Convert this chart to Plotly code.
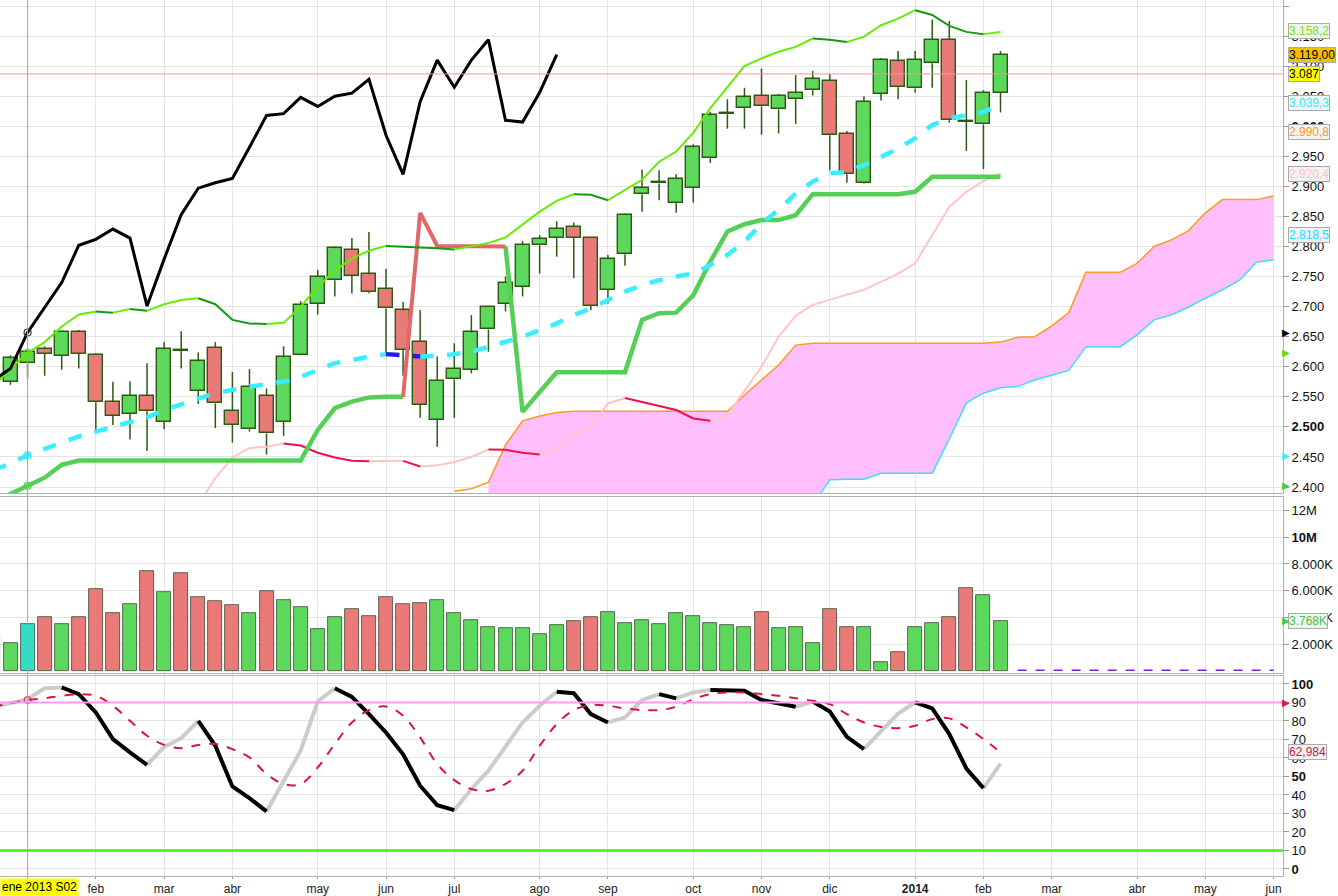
import pandas as pd
import plotly.graph_objects as go
from plotly.subplots import make_subplots


# ------------------------------------------------------
# 1. DATA (weekly bars)
# ------------------------------------------------------
first_week = "2012-12-24"   # first (half hidden) weekly bar
n_weeks = 76                # 60 real bars + projected cloud
n_bars = 60

open_ = [2.522, 2.575, 2.606, 2.629, 2.618, 2.658, 2.620, 2.542, 2.522, 2.552,
         2.508, 2.628, 2.560, 2.632, 2.526, 2.496, 2.552, 2.508, 2.619, 2.705,
         2.744, 2.795, 2.754, 2.730, 2.694, 2.642, 2.512, 2.579, 2.595, 2.662,
         2.705, 2.733, 2.802, 2.814, 2.833, 2.814, 2.728, 2.787, 2.887, 2.905,
         2.873, 2.897, 2.947, 3.020, 3.030, 3.051, 3.028, 3.045, 3.060, 3.076,
         2.987, 2.906, 3.054, 3.108, 3.063, 3.105, 3.143, 3.008, 3.003, 3.056]
high = [2.560, 2.619, 2.627, 2.634, 2.660, 2.661, 2.623, 2.575, 2.576, 2.606,
        2.641, 2.659, 2.624, 2.641, 2.591, 2.596, 2.564, 2.634, 2.709, 2.761,
        2.800, 2.814, 2.824, 2.763, 2.708, 2.694, 2.617, 2.639, 2.686, 2.701,
        2.750, 2.809, 2.819, 2.842, 2.840, 2.815, 2.786, 2.855, 2.928, 2.927,
        2.920, 2.970, 3.024, 3.045, 3.064, 3.096, 3.054, 3.085, 3.092, 3.087,
        2.992, 3.050, 3.113, 3.125, 3.125, 3.177, 3.175, 3.077, 3.060, 3.125]
low = [2.510, 2.570, 2.581, 2.585, 2.595, 2.597, 2.492, 2.503, 2.479, 2.460,
       2.496, 2.597, 2.538, 2.498, 2.474, 2.492, 2.454, 2.485, 2.619, 2.687,
       2.717, 2.722, 2.722, 2.622, 2.585, 2.515, 2.467, 2.515, 2.589, 2.625,
       2.692, 2.717, 2.755, 2.783, 2.747, 2.694, 2.705, 2.768, 2.858, 2.877,
       2.856, 2.873, 2.939, 2.996, 2.996, 2.986, 2.988, 3.004, 3.051, 2.927,
       2.906, 2.905, 3.043, 3.045, 3.056, 3.064, 3.006, 2.959, 2.929, 3.023]
close = [2.547, 2.614, 2.624, 2.622, 2.658, 2.622, 2.541, 2.518, 2.552, 2.526,
         2.629, 2.627, 2.609, 2.539, 2.503, 2.567, 2.489, 2.616, 2.702, 2.750,
         2.797, 2.751, 2.724, 2.697, 2.628, 2.537, 2.577, 2.597, 2.657, 2.699,
         2.740, 2.802, 2.812, 2.829, 2.814, 2.701, 2.779, 2.853, 2.897, 2.906,
         2.913, 2.965, 3.018, 3.021, 3.048, 3.033, 3.050, 3.055, 3.078, 2.985,
         2.920, 3.041, 3.110, 3.065, 3.110, 3.144, 3.010, 3.007, 3.056, 3.119]

# volume in millions
volume_m = [2.5, 2.1, 3.5, 4.0, 3.5, 4.0, 6.1, 4.3, 5.0, 7.5,
            5.9, 7.3, 5.5, 5.2, 4.9, 4.3, 6.0, 5.3, 4.8, 3.1,
            4.0, 4.6, 4.1, 5.5, 5.0, 5.1, 5.3, 4.3, 3.8, 3.3,
            3.2, 3.2, 2.8, 3.4, 3.7, 4.0, 4.4, 3.6, 3.8, 3.5,
            4.3, 4.1, 3.6, 3.4, 3.3, 4.4, 3.2, 3.3, 2.1, 4.6,
            3.3, 3.3, 0.7, 1.4, 3.3, 3.6, 4.0, 6.2, 5.7, 3.768]

# thin channel line (top)
upper_line = [2.567, 2.597, 2.623, 2.641, 2.667, 2.687, 2.692, 2.690, 2.696, 2.693,
              2.704, 2.711, 2.714, 2.704, 2.678, 2.672, 2.671, 2.673, 2.700, 2.733,
              2.760, 2.780, 2.793, 2.801, 2.800, 2.799, 2.797, 2.795, 2.800, 2.806,
              2.815, 2.836, 2.858, 2.876, 2.887, 2.886, 2.877, 2.894, 2.911, 2.941,
              2.958, 2.989, 3.030, 3.065, 3.100, 3.113, 3.124, 3.132, 3.146, 3.144,
              3.140, 3.149, 3.168, 3.179, 3.193, 3.185, 3.167, 3.157, 3.153, 3.157]
# thick line (bottom)
lower_line = [2.375, 2.388, 2.402, 2.4155, 2.437, 2.444, 2.444, 2.444, 2.444, 2.444,
              2.444, 2.444, 2.444, 2.444, 2.444, 2.444, 2.444, 2.444, 2.444, 2.495,
              2.531, 2.542, 2.549, 2.550, 2.550, 2.856, 2.801, 2.801, 2.801, 2.801,
              2.800, 2.525, 2.558, 2.591, 2.591, 2.591, 2.591, 2.591, 2.678, 2.689,
              2.690, 2.719, 2.775, 2.825, 2.837, 2.844, 2.844, 2.852, 2.887, 2.887,
              2.887, 2.887, 2.887, 2.887, 2.891, 2.916, 2.916, 2.916, 2.916, 2.916]
# dashed cyan average
base_line = [2.428, 2.439, 2.453, 2.464, 2.475, 2.484, 2.492, 2.500, 2.507, 2.516,
             2.528, 2.538, 2.547, 2.556, 2.562, 2.567, 2.571, 2.575, 2.583, 2.595,
             2.606, 2.611, 2.617, 2.621, 2.619, 2.617, 2.618, 2.621, 2.625, 2.633,
             2.642, 2.650, 2.661, 2.672, 2.686, 2.697, 2.711, 2.725, 2.736, 2.744,
             2.750, 2.755, 2.769, 2.786, 2.808, 2.838, 2.861, 2.888, 2.908, 2.922,
             2.924, 2.935, 2.949, 2.963, 2.980, 3.002, 3.013, 3.019, 3.024, 3.035]
# pink / red thin line, starts 2013-03-18
pink_line = [2.370, 2.415, 2.449, 2.465, 2.467, 2.4725, 2.469, 2.457, 2.449, 2.4437,
             2.4430, 2.4432, 2.4435, 2.434, 2.436, 2.4415, 2.450, 2.4625, 2.462, 2.457,
             2.454, 2.465, 2.488, 2.500, 2.539, 2.548, 2.541, 2.535, 2.528, 2.514,
             2.510, 2.520, 2.560, 2.600, 2.650, 2.685, 2.703, 2.712, 2.720, 2.728,
             2.741, 2.755, 2.772, 2.820, 2.866, 2.891, 2.909, 2.921]
# cloud edges (projected forward), orange one starts 2013-07-01
cloud_a = [2.393, 2.397, 2.408, 2.470, 2.510, 2.518, 2.524,
           2.526, 2.526, 2.526, 2.526, 2.526, 2.526, 2.526, 2.526, 2.526, 2.526,
           2.553, 2.578, 2.603, 2.636,
           2.639, 2.639, 2.639, 2.639, 2.639, 2.639, 2.639, 2.639, 2.639, 2.639, 2.639,
           2.641, 2.649, 2.650, 2.668, 2.690, 2.757, 2.757, 2.757, 2.772, 2.800,
           2.811, 2.826, 2.856, 2.878, 2.878, 2.878, 2.884]
# cyan edge, starts 2013-07-15 (first values are below the visible range)
cloud_b = [2.300, 2.300, 2.300, 2.300, 2.300, 2.300, 2.300, 2.300, 2.300, 2.300,
           2.300, 2.300, 2.300, 2.300, 2.300, 2.300, 2.300, 2.300, 2.300, 2.370,
           2.412, 2.413, 2.413, 2.423, 2.423, 2.423, 2.423, 2.480, 2.540, 2.556,
           2.565, 2.567, 2.578, 2.586, 2.594, 2.633, 2.633, 2.633, 2.653, 2.678,
           2.686, 2.699, 2.714, 2.728, 2.744, 2.774, 2.778]

stoch_k = [87.5, 89.5, 91.8, 97.7, 98.1, 94.5, 84.6, 70.2, 63.0, 56.3,
           66.0, 70.7, 80.1, 66.6, 44.6, 38.3, 31.1, 47.7, 63.9, 90.5,
           97.7, 93.0, 83.7, 73.8, 62.0, 45.0, 34.5, 31.8, 43.2, 53.1,
           66.0, 79.2, 88.2, 95.8, 95.0, 83.7, 79.2, 81.9, 91.3, 94.5,
           92.2, 95.4, 96.8, 96.7, 96.3, 91.3, 89.6, 87.7, 90.5, 85.1,
           71.4, 64.8, 74.7, 84.0, 90.0, 86.8, 72.9, 54.3, 43.7, 57.0]
stoch_d = [87.8, 89.5, 91.3, 92.3, 93.6, 94.5, 93.6, 88.2, 80.1, 72.0,
           67.1, 65.3, 67.0, 67.5, 64.8, 60.3, 51.3, 45.9, 45.9, 54.9,
           67.5, 79.2, 85.9, 87.8, 82.8, 71.1, 56.7, 48.0, 43.2, 42.3,
           46.0, 53.1, 66.6, 78.3, 85.9, 88.6, 88.2, 86.8, 85.9, 85.9,
           87.7, 91.8, 94.5, 95.4, 95.4, 94.5, 93.6, 92.3, 90.9, 89.1,
           83.7, 79.2, 76.8, 76.1, 77.4, 81.0, 81.4, 76.5, 70.2, 63.0]
stoch_levels = [90, 10]
last_price_line = 3.087

month_ticks = ["2013-01-07", "2013-02-04", "2013-03-04", "2013-04-01", "2013-05-06",
               "2013-06-03", "2013-07-01", "2013-08-05", "2013-09-02", "2013-10-07",
               "2013-11-04", "2013-12-02", "2014-01-06", "2014-02-03", "2014-03-03",
               "2014-04-07", "2014-05-05", "2014-06-02"]
month_labels = ["", "feb", "mar", "abr", "may", "jun", "jul", "ago", "sep", "oct",
                "nov", "dic", "<b>2014</b>", "feb", "mar", "abr", "may", "jun"]

price_ticks = [2.40, 2.45, 2.50, 2.55, 2.60, 2.65, 2.70, 2.75, 2.80, 2.85,
               2.90, 2.95, 3.00, 3.05, 3.10, 3.15, 3.20]
vol_ticks = [2, 4, 6, 8, 10, 12]
vol_labels = ["2.000K", "4.000K", "6.000K", "8.000K", "<b>10M</b>", "12M"]
osc_ticks = [0, 10, 20, 30, 40, 50, 60, 70, 80, 90, 100]

# value tags on the right axis: value, text, text colour, box colour
price_tags = [
    (3.1582, "3.158,2", "#74e02c", "#f3f3f3"),
    (3.1190, "3.119,00", "#000000", "#f2c200"),
    (3.0870, "3.087", "#000000", "#ffff00"),
    (3.0393, "3.039,3", "#38e8ff", "#f3f3f3"),
    (2.9908, "2.990,8", "#ff9a22", "#f3f3f3"),
    (2.9204, "2.920,4", "#ffc2c2", "#f3f3f3"),
    (2.8185, "2.818,5", "#22ddff", "#f3f3f3"),
]

CHIKOU_SHIFT = 26
PINK_START = 12
CLOUD_A_START = 27
CLOUD_B_START = 29
RED_FROM, RED_TO = 24, 30     # part of the thick line drawn in red
CROSS = 2                     # bar under the crosshair (ene 2013 S02)

# colours
UP = "#5cd85c"
DOWN = "#ea7a78"
EDGE = "#2c5a12"
FONT = "Liberation Sans, Arial, sans-serif"


# ------------------------------------------------------
# 2. HELPERS
# ------------------------------------------------------
def runs(xs, ys):
    """Split a line into rising / falling runs (lists with None gaps)."""
    out = {True: ([], []), False: ([], [])}
    i, n = 0, len(ys)
    while i < n - 1:
        d = ys[i + 1] > ys[i]
        j = i
        while j < n - 1 and (ys[j + 1] > ys[j]) == d:
            j += 1
        px, py = out[d]
        px += list(xs[i:j + 1]) + [None]
        py += list(ys[i:j + 1]) + [None]
        i = j
    return out


def add_runs(fig, xs, ys, up_col, dn_col, width, dash="solid", row=1):
    parts = runs(xs, ys)
    for rising, col in ((True, up_col), (False, dn_col)):
        px, py = parts[rising]
        fig.add_trace(go.Scatter(x=px, y=py, mode="lines", hoverinfo="skip",
                                 line=dict(color=col, width=width, dash=dash)),
                      row=row, col=1)


weeks = pd.date_range(first_week, periods=n_weeks, freq="7D")
bars = list(weeks[:n_bars])
bar_width = 0.82 * 7 * 24 * 3600 * 1000
x_start = weeks[1] - pd.Timedelta(days=7 * 0.615)
x_end = weeks[1] + pd.Timedelta(days=7 * 74.55)


# ------------------------------------------------------
# 3. FIGURE
# ------------------------------------------------------
fig = make_subplots(rows=3, cols=1, shared_xaxes=True, vertical_spacing=0.004)

# --- cloud ---
ca_x = list(weeks[CLOUD_A_START:CLOUD_A_START + len(cloud_a)])
cb_x = list(weeks[CLOUD_B_START:CLOUD_B_START + len(cloud_b)])
skip = CLOUD_B_START - CLOUD_A_START
fig.add_trace(go.Scatter(x=ca_x[skip:], y=cloud_a[skip:], mode="lines",
                         line=dict(width=0), hoverinfo="skip"), row=1, col=1)
fig.add_trace(go.Scatter(x=cb_x, y=cloud_b, mode="lines", fill="tonexty",
                         fillcolor="#ffbefd", line=dict(color="#3fdcff", width=1.5),
                         hoverinfo="skip"), row=1, col=1)
fig.add_trace(go.Scatter(x=ca_x, y=cloud_a, mode="lines",
                         line=dict(color="#ff9a22", width=1.5), hoverinfo="skip"),
              row=1, col=1)

# --- candles: wicks + bodies ---
wx, wy = [], []
for d, o, h, l, c in zip(bars, open_, high, low, close):
    wx += [d, d, None, d, d, None]
    wy += [max(o, c), h, None, l, min(o, c), None]
fig.add_trace(go.Scatter(x=wx, y=wy, mode="lines", hoverinfo="skip",
                         line=dict(color=EDGE, width=1.5)), row=1, col=1)

fig.add_trace(go.Bar(
    x=bars,
    y=[max(abs(c - o), 0.0015) for o, c in zip(open_, close)],
    base=[min(o, c) for o, c in zip(open_, close)],
    width=bar_width,
    marker=dict(color=[UP if c >= o else DOWN for o, c in zip(open_, close)],
                line=dict(color=EDGE, width=1.4)),
), row=1, col=1)

# --- pink / red thin line ---
pink_x = list(weeks[PINK_START:PINK_START + len(pink_line)])
add_runs(fig, pink_x, pink_line, "#ffc4c4", "#f0104a", 2)

# --- thick bottom line (green, one stretch red) ---
lx = bars
green_x = list(lx[:RED_FROM + 1]) + [None] + list(lx[RED_TO:])
green_y = list(lower_line[:RED_FROM + 1]) + [None] + list(lower_line[RED_TO:])
fig.add_trace(go.Scatter(x=green_x, y=green_y, mode="lines", hoverinfo="skip",
                         line=dict(color="#55cf55", width=4.5)), row=1, col=1)
fig.add_trace(go.Scatter(x=lx[RED_FROM:RED_TO + 1], y=lower_line[RED_FROM:RED_TO + 1],
                         mode="lines", hoverinfo="skip",
                         line=dict(color="#e06868", width=4)), row=1, col=1)

# --- thin top line ---
add_runs(fig, bars, upper_line, "#66ee00", "#149a14", 2)

# --- dashed cyan average ---
add_runs(fig, bars, base_line, "#38eeff", "#2a1ae6", 4.5, dash="dash")

# --- lagging close (black) ---
chikou = close[CHIKOU_SHIFT:]
fig.add_trace(go.Scatter(x=bars[:len(chikou)], y=chikou, mode="lines",
                         hoverinfo="skip", line=dict(color="#000000", width=3)),
              row=1, col=1)

# --- crosshair circles ---
fig.add_trace(go.Scatter(
    x=[bars[CROSS]] * 4,
    y=[chikou[CROSS], upper_line[CROSS], base_line[CROSS], lower_line[CROSS]],
    mode="markers", hoverinfo="skip",
    marker=dict(symbol="circle-open", size=7,
                color=["#333333", "#66dd00", "#38eeff", "#55cf55"], line=dict(width=1.2)),
), row=1, col=1)

# --- volume ---
vol_col = [UP] + [UP if close[i] >= close[i - 1] else DOWN for i in range(1, n_bars)]
vol_col[CROSS] = "#33dcc4"
fig.add_trace(go.Bar(x=bars, y=volume_m, width=bar_width,
                     marker=dict(color=vol_col, line=dict(color="#3d4a35", width=0.8))),
              row=2, col=1)
future = list(weeks[n_bars:])
fig.add_trace(go.Scatter(x=future, y=[0.05] * len(future), mode="lines", hoverinfo="skip",
                         line=dict(color="#7a1fd0", width=1.5, dash="dash")),
              row=2, col=1)

# --- stochastic ---
add_runs(fig, bars, stoch_k, "#cccccc", "#000000", 4, row=3)
fig.add_trace(go.Scatter(x=bars, y=stoch_d, mode="lines", line_shape="spline",
                         hoverinfo="skip",
                         line=dict(color="#dc1446", width=2, dash="dash")),
              row=3, col=1)
fig.add_trace(go.Scatter(x=[bars[CROSS]], y=[stoch_d[CROSS]], mode="markers",
                         hoverinfo="skip",
                         marker=dict(symbol="circle-open", size=7, color="#dc1446")),
              row=3, col=1)


# ------------------------------------------------------
# 4. SHAPES / LABELS
# ------------------------------------------------------
fig.add_hline(y=last_price_line, line=dict(color="#ee9a9a", width=1), row=1, col=1)
fig.add_hline(y=stoch_levels[0], line=dict(color="#ff99ee", width=2), row=3, col=1)
fig.add_hline(y=stoch_levels[1], line=dict(color="#44ee11", width=2.5), row=3, col=1)
fig.add_shape(type="line", xref="x3", yref="paper", x0=bars[CROSS], x1=bars[CROSS],
              y0=0, y1=1, line=dict(color="#ee8888", width=1))

for val, txt, fc, bg in price_tags:
    fig.add_annotation(xref="paper", yref="y", x=1, y=val, text=txt, showarrow=False,
                       xanchor="left", xshift=5, bgcolor=bg, bordercolor="#aaaaaa",
                       borderwidth=1, borderpad=0, font=dict(size=12, color=fc, family=FONT))
fig.add_annotation(xref="paper", yref="y2", x=1, y=volume_m[-1], text="3.768K",
                   showarrow=False, xanchor="left", xshift=5, bgcolor="#f3f3f3",
                   bordercolor="#aaaaaa", borderwidth=1, borderpad=0,
                   font=dict(size=12, color="#44c444", family=FONT))
fig.add_annotation(xref="paper", yref="y3", x=1, y=stoch_d[-1], text="62,984",
                   showarrow=False, xanchor="left", xshift=5, bgcolor="#f3f3f3",
                   bordercolor="#aaaaaa", borderwidth=1, borderpad=0,
                   font=dict(size=12, color="#dc1446", family=FONT))

# small triangles on the axis line
axis_marks = [("y", chikou[CROSS], "#000000"), ("y", upper_line[CROSS], "#66dd00"),
              ("y", base_line[CROSS], "#38eeff"), ("y", lower_line[CROSS], "#44cc44"),
              ("y2", volume_m[-1], "#44cc44"), ("y3", stoch_levels[0], "#dc1446")]
for yref, val, col in axis_marks:
    fig.add_annotation(xref="paper", yref=yref, x=1, y=val, text="▶", showarrow=False,
                       xanchor="left", xshift=-3, font=dict(size=10, color=col,
                                                             family="DejaVu Sans"))

fig.add_annotation(xref="paper", yref="paper", x=0, y=0, text="ene 2013 S02",
                   showarrow=False, xanchor="left", yanchor="top", yshift=-2,
                   bgcolor="#ffff00", borderpad=1,
                   font=dict(size=12, color="#000000", family=FONT))


# ------------------------------------------------------
# 5. LAYOUT
# ------------------------------------------------------
grid = "#e4e4e4"
axis_line = "#b0b0b0"
xcommon = dict(type="date", range=[x_start, x_end], tickvals=month_ticks,
               showgrid=True, gridcolor=grid, showline=True, mirror=True,
               linecolor=axis_line, zeroline=False, automargin=False)
fig.update_xaxes(**xcommon)
fig.update_xaxes(ticktext=month_labels, ticks="outside", ticklen=2, tickcolor="#999999",
                 tickfont=dict(size=12, color="#222222", family=FONT), row=3, col=1)

ycommon = dict(side="right", showgrid=True, gridcolor=grid, showline=True, mirror=True,
               linecolor=axis_line, zeroline=False, ticks="outside", ticklen=5,
               tickcolor="#999999", tickfont=dict(size=13, color="#111111", family=FONT),
               automargin=False)
fig.update_yaxes(**ycommon)
fig.update_yaxes(domain=[0.4372, 1.0], range=[2.390, 3.210], tickvals=price_ticks,
                 ticktext=[("<b>%.3f</b>" if v in (2.50, 3.00) else "%.3f") % v
                           for v in price_ticks], row=1, col=1)
fig.update_yaxes(domain=[0.2317, 0.4326], range=[-0.15, 13.0], tickvals=vol_ticks,
                 ticktext=vol_labels, row=2, col=1)
fig.update_yaxes(domain=[0.0, 0.2283], range=[-3.8, 104.3], tickvals=osc_ticks,
                 ticktext=["<b>%d</b>" % v if v in (0, 50, 100) else str(v)
                           for v in osc_ticks], row=3, col=1)

fig.update_layout(
    width=1338, height=896,
    margin=dict(l=0, r=55, t=0, b=20),
    paper_bgcolor="white", plot_bgcolor="white",
    showlegend=False, barmode="overlay", bargap=0,
    font=dict(family=FONT),
)

fig.write_html("out.html", config={"displayModeBar": False},
               post_script="document.body.style.margin='0px';")
